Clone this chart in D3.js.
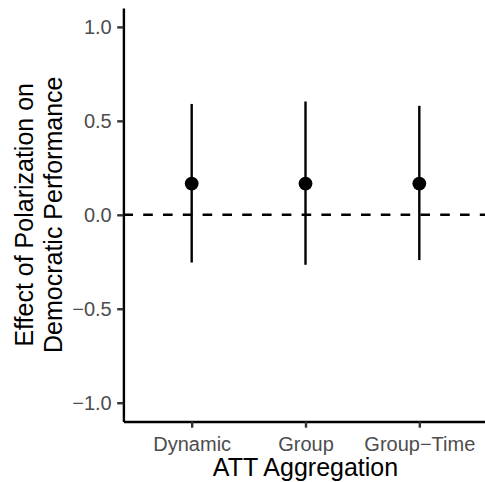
<!DOCTYPE html>
<html>
<head>
<meta charset="utf-8">
<script src="https://cdn.jsdelivr.net/npm/d3@7"></script>
<style>
  body { margin: 0; background: #fff; }
  svg { display: block; font-family: "Liberation Sans", Arial, sans-serif; }
</style>
</head>
<body>
<script>
// ATT estimates with confidence intervals
var categories = ["Dynamic", "Group", "Group\u2212Time"];
var estimates = [0.166, 0.166, 0.166];
var lower = [-0.254, -0.266, -0.241];
var upper = [0.590, 0.603, 0.580];
var yTicks = [-1, -0.5, 0, 0.5, 1];

var W = 485, H = 482;
var lineW = 2.4;

var svg = d3.select("body").append("svg")
    .attr("width", W)
    .attr("height", H);

var x = d3.scalePoint()
    .domain(categories)
    .range([123.4, 487.6])
    .padding(0.6);

var y = d3.scaleLinear()
    .domain([-1.1, 1.1])
    .range([421.5, 8.1]);

var rows = categories.map(function(c, i) {
    return { cat: c, est: estimates[i], lo: lower[i], hi: upper[i] };
});

// reference line at zero
svg.append("line")
    .attr("x1", x.range()[0])
    .attr("x2", x.range()[1])
    .attr("y1", y(0))
    .attr("y2", y(0))
    .attr("stroke", "#000")
    .attr("stroke-width", lineW)
    .attr("stroke-dasharray", "9.6,10.2");

// error bars
svg.append("g").selectAll("line")
    .data(rows)
    .enter()
    .append("line")
        .attr("x1", function(d) { return x(d.cat); })
        .attr("x2", function(d) { return x(d.cat); })
        .attr("y1", function(d) { return y(d.lo); })
        .attr("y2", function(d) { return y(d.hi); })
        .attr("stroke", "#000")
        .attr("stroke-width", lineW);

svg.append("g").selectAll("circle")
    .data(rows)
    .enter()
    .append("circle")
        .attr("cx", function(d) { return x(d.cat); })
        .attr("cy", function(d) { return y(d.est); })
        .attr("r", 6.9)
        .attr("fill", "#000");

// axes
var yAxis = svg.append("g")
    .attr("transform", "translate(" + x.range()[0] + ",0)")
    .call(d3.axisLeft(y)
        .tickValues(yTicks)
        .tickFormat(d3.format(".1f"))
        .tickSize(6.2)
        .tickSizeOuter(0)
        .tickPadding(5.5));

var xAxis = svg.append("g")
    .attr("transform", "translate(0," + y.range()[0] + ")")
    .call(d3.axisBottom(x)
        .tickSize(6.2)
        .tickSizeOuter(0)
        .tickPadding(4));

[yAxis, xAxis].forEach(function(ax) {
    ax.select(".domain").attr("stroke", "#000").attr("stroke-width", lineW);
    ax.selectAll(".tick line").attr("stroke", "#333").attr("stroke-width", lineW);
    ax.selectAll(".tick text")
        .attr("fill", "#4d4d4d")
        .style("font-size", "20px")
        .style("font-family", "'Liberation Sans', Arial, sans-serif");
});

xAxis.selectAll(".tick text").attr("dy", null).attr("y", 29.5);

// axis titles
svg.append("text")
    .attr("x", (x.range()[0] + x.range()[1]) / 2)
    .attr("y", 476)
    .attr("text-anchor", "middle")
    .style("font-size", "25px")
    .text("ATT Aggregation");

var yMid = (y.range()[0] + y.range()[1]) / 2;
var yTitle = ["Effect of Polarization on", "Democratic Performance"];
svg.append("g").selectAll("text")
    .data(yTitle)
    .enter()
    .append("text")
        .attr("transform", function(d, i) {
            return "translate(" + (33 + i * 28.7) + "," + yMid + ") rotate(-90)";
        })
        .attr("text-anchor", "middle")
        .style("font-size", "25px")
        .text(function(d) { return d; });
</script>
</body>
</html>
